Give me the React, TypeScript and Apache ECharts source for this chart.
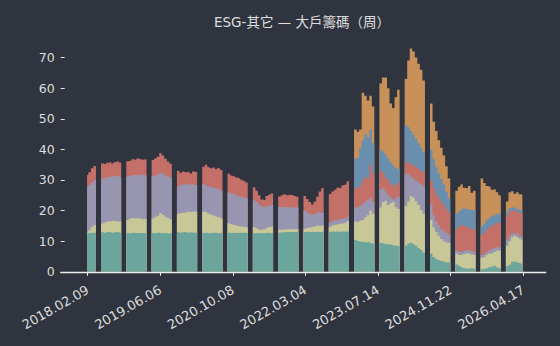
import React, { useEffect, useRef } from 'react';
import * as echarts from 'echarts';

const N = null;
const gap = (n: number) => new Array(n).fill(null);

// x axis in weeks since 2018.02.09; one sample every 2.475 weeks
const firstSample = -0.6125;
const sampleStep = 2.475;
const tickWeeks = [0, 71, 142, 213, 284, 355, 426];
const tickLabels = ['2018.02.09', '2019.06.06', '2020.10.08', '2022.03.04', '2023.07.14', '2024.11.22', '2026.04.17'];
const yTicks = [0, 10, 20, 30, 40, 50, 60, 70];

const titleText = 'ESG-其它 — 大戶籌碼（周）';

// cumulative level (top edge) of each holder tier
const tier1 = [
  12.8, 12.7, 12.8, 12.8, N, N,
  12.9, 12.8, 13.0, 12.9, 12.8, 12.9, 13.0, 12.8, N, N,
  12.7, 12.6, 12.8, 12.7, 12.6, 12.7, 12.7, 12.6, N, N,
  12.7, 12.6, 12.8, 12.7, 12.6, 12.7, 12.5, 12.7, N, N,
  12.9, 12.8, 13.0, 12.9, 12.8, 12.9, 12.8, 12.8, N, N,
  12.7, 12.8, 12.6, 12.7, 12.8, 12.7, 12.6, 12.7, N, N,
  12.8, 12.7, 12.8, 12.7, 12.8, 12.7, 12.8, 12.7, N, N,
  12.6, 12.7, 12.6, 12.7, 12.6, 12.8, 12.7, 12.7, N, N,
  12.8, 12.9, 12.9, 13.0, 12.9, 13.0, 13.0, 13.1, N, N,
  13.0, 13.1, 13.0, 13.1, 13.0, 13.1, 13.0, 13.1, N, N,
  13.1, 13.2, 13.1, 13.2, 13.1, 13.2, 13.1, 13.2, N, N,
  10.4, 10.1, 9.8, 9.8, 9.6, 9.8, 9.4, 9.2, N, N,
  9.5, 9.3, 9.0, 9.1, 8.8, 8.6, 8.5, 8.4, N, N,
  8.5, 9.2, 9.5, 9.0, 8.5, 7.8, 7.2, 6.3, N, N,
  6.0, 4.8, 4.2, 3.8, 3.5, 3.3, 3.0, 3.0, N, N,
  2.5, 2.0, 1.5, 1.2, 1.0, 1.1, 1.2, 1.0, N, N,
  0.8, 1.0, 1.2, 1.5, 1.7, 2.0, 1.5, 1.2, N, N,
  1.8, 2.3, 3.3, 3.4, 3.0, 2.8, 2.5,
];

const tier2 = [
  13.1, 13.6, 14.6, 15.3, N, N,
  15.8, 16.1, 16.4, 16.5, 16.7, 16.6, 16.4, 16.5, N, N,
  16.9, 17.3, 17.6, 17.5, 17.5, 17.4, 17.2, 17.3, N, N,
  17.4, 17.8, 18.3, 19.2, 18.6, 18.0, 17.6, 17.2, N, N,
  19.0, 19.2, 19.4, 19.3, 19.6, 19.5, 19.7, 19.6, N, N,
  19.6, 19.5, 19.0, 18.7, 18.4, 18.1, 17.8, 17.5, N, N,
  15.9, 15.5, 15.3, 15.1, 14.9, 14.8, 14.7, 14.5, N, N,
  14.6, 14.2, 13.8, 13.6, 13.9, 14.2, 14.6, 14.8, N, N,
  13.7, 13.7, 13.9, 13.8, 14.0, 13.9, 13.9, 14.0, N, N,
  14.0, 14.3, 14.5, 14.7, 14.9, 15.1, 15.0, 15.2, N, N,
  14.6, 15.1, 15.4, 15.5, 15.7, 15.8, 16.0, 16.6, N, N,
  16.4, 16.2, 16.8, 17.0, 17.8, 18.5, 20.0, 19.0, N, N,
  21.0, 22.8, 23.2, 21.8, 22.5, 22.8, 21.2, 20.5, N, N,
  21.5, 23.0, 24.8, 24.3, 23.0, 21.8, 20.2, 19.0, N, N,
  17.0, 14.5, 13.0, 11.8, 10.7, 10.0, 9.6, 9.5, N, N,
  6.0, 5.5, 5.5, 5.8, 6.0, 6.0, 5.6, 5.5, N, N,
  4.5, 4.8, 5.5, 6.0, 6.0, 6.5, 7.0, 7.0, N, N,
  8.5, 10.0, 11.3, 11.8, 11.4, 10.8, 10.5,
];

const tier3 = [
  27.8, 28.4, 29.1, 30.0, N, N,
  30.2, 30.6, 31.0, 30.9, 31.2, 31.3, 31.2, 31.0, N, N,
  31.2, 31.4, 31.6, 31.7, 31.5, 31.7, 31.6, 31.5, N, N,
  31.3, 31.5, 31.8, 32.3, 32.0, 31.5, 31.1, 30.8, N, N,
  27.9, 28.4, 28.6, 28.8, 28.5, 28.6, 28.5, 28.3, N, N,
  28.7, 28.3, 27.9, 27.8, 27.5, 27.3, 27.0, 26.6, N, N,
  26.0, 25.6, 25.3, 25.0, 24.7, 24.4, 24.2, 24.0, N, N,
  23.4, 22.8, 22.1, 21.3, 21.1, 21.5, 21.7, 21.8, N, N,
  21.2, 21.2, 21.0, 21.2, 21.0, 21.0, 21.1, 21.0, N, N,
  20.0, 19.4, 19.0, 18.6, 18.9, 19.2, 19.5, 19.2, N, N,
  16.2, 16.6, 17.0, 16.9, 17.2, 17.3, 17.6, 18.0, N, N,
  21.0, 21.1, 21.6, 22.2, 23.0, 23.5, 24.3, 23.0, N, N,
  27.0, 27.3, 26.2, 25.0, 24.3, 23.6, 24.0, 24.5, N, N,
  32.0, 31.8, 31.2, 30.5, 29.8, 29.2, 28.6, 28.0, N, N,
  22.0, 18.5, 16.5, 15.2, 14.0, 13.4, 12.8, 12.0, N, N,
  7.0, 6.7, 6.5, 6.8, 7.1, 7.1, 6.8, 6.5, N, N,
  5.5, 5.8, 6.5, 7.0, 7.5, 7.8, 8.0, 8.0, N, N,
  10.5, 11.8, 12.5, 12.8, 12.5, 11.8, 11.5,
];

const tier4 = [
  31.6, 32.5, 33.8, 34.6, N, N,
  35.4, 35.2, 35.6, 35.8, 35.4, 35.9, 36.1, 35.7, N, N,
  36.1, 36.3, 36.8, 36.6, 37.0, 36.8, 36.6, 36.8, N, N,
  36.5, 37.0, 37.6, 38.7, 38.0, 36.9, 36.0, 35.3, N, N,
  33.0, 32.4, 32.8, 32.5, 32.7, 32.1, 32.8, 32.6, N, N,
  34.3, 35.0, 34.2, 33.8, 34.1, 33.5, 33.9, 33.3, N, N,
  32.0, 31.5, 31.2, 30.8, 30.6, 30.1, 29.7, 29.2, N, N,
  27.6, 26.5, 25.0, 23.6, 23.5, 24.8, 25.2, 25.6, N, N,
  24.6, 25.0, 25.3, 25.0, 25.2, 25.0, 24.8, 24.5, N, N,
  24.8, 23.8, 22.8, 22.0, 23.0, 24.5, 26.2, 27.4, N, N,
  25.4, 26.2, 26.8, 27.5, 27.4, 28.3, 28.5, 29.6, N, N,
  27.5, 27.2, 28.3, 29.8, 31.0, 30.5, 35.0, 32.0, N, N,
  33.0, 32.3, 30.8, 30.0, 28.8, 28.0, 28.5, 29.0, N, N,
  36.0, 35.3, 35.4, 34.8, 34.2, 33.6, 33.0, 32.5, N, N,
  30.0, 27.5, 25.5, 24.2, 23.0, 21.8, 20.6, 19.5, N, N,
  14.0, 14.7, 15.4, 15.0, 14.7, 14.4, 14.0, 13.8, N, N,
  12.0, 12.8, 13.8, 14.5, 15.1, 15.5, 16.0, 16.0, N, N,
  18.5, 19.8, 20.0, 20.0, 19.6, 19.3, 19.0,
];

const tier5 = [
  ...gap(106),
  37.0, 37.2, 40.5, 43.0, 45.0, 44.0, 46.5, 42.0, N, N,
  40.0, 39.3, 38.3, 37.0, 35.8, 34.8, 34.0, 33.5, N, N,
  48.0, 47.2, 46.0, 44.8, 43.5, 42.2, 40.5, 39.0, N, N,
  40.0, 36.8, 34.2, 32.3, 30.3, 28.5, 26.2, 24.0, N, N,
  19.0, 19.7, 20.4, 20.8, 20.4, 20.5, 20.2, 20.0, N, N,
  15.0, 15.8, 17.0, 17.6, 18.2, 18.5, 19.0, 19.0, N, N,
  19.5, 20.8, 21.0, 21.0, 20.6, 20.3, 20.0,
];

const tier6 = [
  ...gap(106),
  46.5, 45.8, 46.5, 58.5, 57.5, 56.0, 57.5, 54.0, N, N,
  61.5, 63.5, 63.5, 60.0, 55.0, 53.5, 57.0, 59.5, N, N,
  63.0, 69.0, 73.0, 72.0, 70.0, 68.0, 66.0, 62.5, N, N,
  55.0, 49.0, 46.0, 43.0, 40.5, 38.0, 34.5, 30.5, N, N,
  26.5, 27.8, 28.5, 27.5, 27.3, 28.0, 25.8, 26.5, N, N,
  30.5, 29.0, 28.0, 27.8, 26.8, 27.0, 26.0, 25.0, N, N,
  23.0, 26.0, 26.3, 25.5, 26.0, 25.3, 25.2,
];

const tiers = [
  { name: '級距6', data: tier6, color: '#c8915a' },
  { name: '級距5', data: tier5, color: '#6a8fae' },
  { name: '級距4', data: tier4, color: '#c56f69' },
  { name: '級距3', data: tier3, color: '#9895b1' },
  { name: '級距2', data: tier2, color: '#c7c797' },
  { name: '級距1', data: tier1, color: '#6ca59c' },
];

const BG = '#2f343e';
const FG = '#dedede';
const FONT = 'DejaVu Sans';
const TITLE_FONT = 'DejaVu Sans, Noto Sans CJK TC';

export default function App() {
  const ref = useRef<HTMLDivElement>(null);
  useEffect(() => {
    if (!ref.current) return;
    const chart = echarts.init(ref.current, null, { renderer: 'svg' });
    const toPairs = (arr: (number | null)[]) =>
      arr.map((v, i) => [firstSample + i * sampleStep, v === null ? '-' : v]);
    chart.setOption({
      animation: false,
      backgroundColor: BG,
      title: {
        text: titleText,
        left: 302,
        top: 15,
        textAlign: 'center',
        padding: 0,
        textStyle: { color: FG, fontSize: 13.5, fontWeight: 'normal', fontFamily: TITLE_FONT },
      },
      grid: { left: 60.7, right: 14.3, top: 39.2, bottom: 74.2 },
      xAxis: {
        type: 'value',
        min: -26.4,
        max: 447.9,
        splitLine: { show: false },
        axisLine: { show: true, onZero: false, lineStyle: { color: '#ececec', width: 1.3 } },
        axisTick: { show: true, customValues: tickWeeks, length: 4, lineStyle: { color: '#ececec', width: 1 } },
        axisLabel: {
          customValues: tickWeeks,
          rotate: 30,
          margin: 17,
          color: FG,
          fontSize: 13,
          fontFamily: FONT,
          formatter: (v: number) => {
            const k = tickWeeks.indexOf(Math.round(v));
            return k >= 0 ? tickLabels[k] : '';
          },
        },
      },
      yAxis: {
        type: 'value',
        min: 0,
        max: 76,
        splitLine: { show: false },
        axisLine: { show: false, onZero: false },
        axisTick: { show: true, inside: true, customValues: yTicks, length: 4, lineStyle: { color: '#e6e6e6', width: 1 } },
        axisLabel: { customValues: yTicks, margin: 6, color: FG, fontSize: 12.5, fontFamily: FONT },
      },
      series: tiers.map((t) => ({
        name: t.name,
        type: 'line',
        data: toPairs(t.data),
        step: 'middle',
        symbol: 'none',
        showSymbol: false,
        connectNulls: false,
        silent: true,
        lineStyle: { width: 0 },
        areaStyle: { color: t.color, opacity: 1 },
      })),
    });
    return () => chart.dispose();
  }, []);
  return <div ref={ref} style={{ position: 'fixed', left: 0, top: 0, width: 560, height: 346 }} />;
}
